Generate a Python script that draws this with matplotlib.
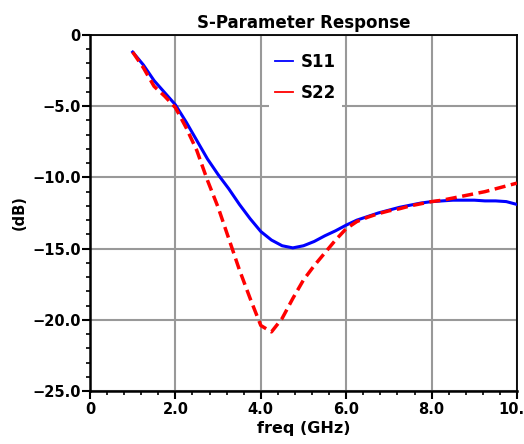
import matplotlib
matplotlib.use("Agg")
import matplotlib.pyplot as plt
from matplotlib.ticker import MultipleLocator, FixedLocator

freq = [1.0, 1.25, 1.5, 1.75, 2.0, 2.25, 2.5, 2.75, 3.0, 3.25, 3.5, 3.75, 4.0,
        4.25, 4.5, 4.75, 5.0, 5.25, 5.5, 5.75, 6.0, 6.25, 6.5, 6.75, 7.0, 7.25,
        7.5, 7.75, 8.0, 8.25, 8.5, 8.75, 9.0, 9.25, 9.5, 9.75, 10.0]
s11 = [-1.2, -2.1, -3.2, -4.05, -4.9, -6.1, -7.4, -8.7, -9.8, -10.8, -11.9,
       -12.9, -13.8, -14.4, -14.8, -14.95, -14.8, -14.5, -14.1, -13.75, -13.35,
       -13.0, -12.75, -12.5, -12.3, -12.1, -11.95, -11.8, -11.7, -11.65, -11.6,
       -11.6, -11.6, -11.65, -11.65, -11.7, -11.9]
s22 = [-1.2, -2.3, -3.6, -4.3, -5.1, -6.5, -8.1, -10.2, -12.1, -14.3, -16.5,
       -18.5, -20.4, -20.85, -19.9, -18.5, -17.2, -16.2, -15.3, -14.4, -13.6,
       -13.1, -12.8, -12.55, -12.35, -12.2, -12.0, -11.85, -11.7, -11.6, -11.45,
       -11.3, -11.15, -11.0, -10.8, -10.6, -10.4]

xticks = [0, 2, 4, 6, 8, 10]
xticklabels = ["0", "2.0", "4.0", "6.0", "8.0", "10.0"]
yticks = [0, -5, -10, -15, -20, -25]
yticklabels = ["0", "\u22125.0", "\u221210.0", "\u221215.0", "\u221220.0", "\u221225.0"]

plt.rcParams['font.family'] = ['DejaVu Sans']
plt.rcParams['font.weight'] = 'bold'

fig = plt.figure(figsize=(5.24, 4.44), dpi=100)
ax = fig.add_axes([90/524, 1-391/444, 427/524, 356/444])

ax.plot(freq, s11, color='#0000FF', lw=2.2, label='S11', zorder=3)
ax.plot(freq, s22, color='#FF0000', lw=2.5, linestyle=(0, (3.2, 1.6)), label='S22', zorder=3)

ax.set_xlim(0, 10)
ax.set_ylim(-25, 0)
ax.xaxis.set_major_locator(FixedLocator(xticks))
ax.set_xticklabels(xticklabels)
ax.yaxis.set_major_locator(FixedLocator(yticks))
ax.set_yticklabels(yticklabels)
ax.xaxis.set_minor_locator(MultipleLocator(0.4))
ax.yaxis.set_minor_locator(MultipleLocator(1))

ax.grid(True, which='major', color='#999999', lw=1.5, zorder=0)
ax.tick_params(which='major', direction='out', length=6, width=1.5, labelsize=10.5, pad=0.5)
ax.tick_params(axis='x', which='major', pad=2)
ax.tick_params(which='minor', direction='out', length=3.2, width=1.2)
for s in ['left', 'bottom']:
    ax.spines[s].set_linewidth(1.8)
for s in ['top', 'right']:
    ax.spines[s].set_linewidth(1.3)

ax.set_title('S-Parameter Response', fontsize=12, fontweight='bold', pad=5)
ax.set_xlabel('freq (GHz)', fontsize=11.5, fontweight='bold', labelpad=3)
ax.set_ylabel('(dB)', fontsize=10.5, fontweight='bold', labelpad=4)

leg = ax.legend(loc='upper left', bbox_to_anchor=(0.419, 0.965), frameon=True,
                fontsize=12, handlelength=1.1, handletextpad=0.45, labelspacing=0.75,
                borderpad=0.35, borderaxespad=0, fancybox=False)
leg.get_frame().set_facecolor('white')
leg.get_frame().set_edgecolor('none')
leg.get_frame().set_alpha(1)
for l in leg.get_lines():
    l.set_linewidth(1.3)
    l.set_linestyle('-')
leg.set_zorder(2)

fig.savefig('out.png', dpi=100)
